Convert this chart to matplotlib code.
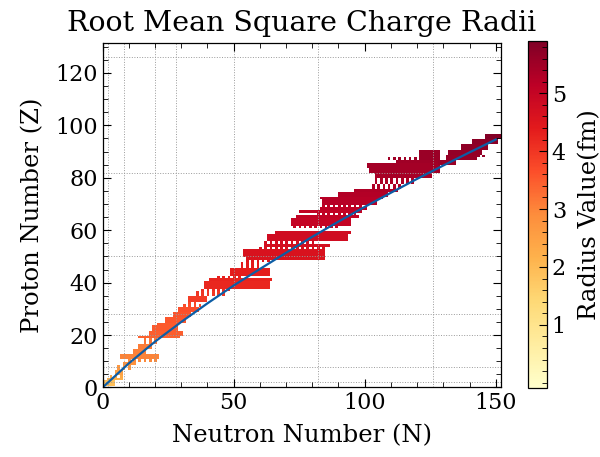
import numpy as np
import matplotlib
matplotlib.use('Agg')
import matplotlib.pyplot as plt

plt.rcParams['font.family'] = ['DejaVu Serif']
plt.rcParams['mathtext.fontset'] = 'dejavuserif'

# nuclide blocks: rows z0..z1, neutrons n0..n1 (every `step`-th cell), radius in fm
seg_z0 = [1, 3, 4, 5, 7, 9, 10, 11, 13, 15, 17,
          19, 20, 22, 24, 25, 27, 29, 31, 32,
          33, 35, 37, 38, 41, 42, 43, 46,
          48, 49, 50, 53, 54, 55, 56, 59,
          61, 62, 65, 66, 67,
          68, 69, 70, 72, 73, 75, 76,
          78, 80, 82, 84, 86, 87, 87,
          85, 87, 88, 89, 91, 93, 95]
seg_z1 = [2, 3, 4, 6, 8, 9, 10, 12, 14, 16, 18,
          19, 21, 23, 24, 26, 28, 30, 31, 32,
          34, 36, 37, 40, 41, 42, 45, 47,
          48, 49, 52, 53, 54, 55, 58, 59,
          61, 64, 65, 66, 67,
          68, 69, 71, 72, 74, 75, 77,
          79, 81, 83, 85, 86, 87, 90,
          86, 88, 88, 90, 92, 94, 96]
seg_n0 = [1, 2, 3, 5, 6, 8, 10, 7, 12, 14, 16,
          14, 18, 19, 21, 24, 27, 29, 31, 33,
          33, 36, 38, 39, 41, 44, 49, 53,
          55, 55, 54, 60, 62, 62, 63, 66,
          73, 72, 74, 82, 75,
          83, 84, 84, 83, 90, 96, 103,
          104, 104, 102, 101, 112, 109, 121,
          128, 131, 141, 132, 137, 141, 146]
seg_n1 = [4, 7, 8, 7, 10, 12, 20, 21, 16, 18, 20,
          29, 30, 28, 28, 31, 33, 36, 37, 36,
          39, 46, 48, 63, 64, 52, 63, 60,
          64, 84, 84, 84, 86, 80, 93, 94,
          90, 94, 97, 96, 98,
          100, 98, 104, 106, 108, 112, 114,
          118, 125, 128, 128, 128, 119, 128,
          134, 142, 145, 144, 146, 150, 151]
seg_step = [1, 1, 2, 1, 2, 1, 2, 1, 1, 1, 2,
            1, 1, 1, 1, 1, 1, 1, 2, 2,
            1, 2, 2, 1, 1, 2, 1, 2,
            2, 1, 1, 2, 1, 2, 1, 1,
            2, 1, 1, 2, 1,
            1, 2, 1, 1, 1, 1, 2,
            2, 1, 1, 1, 1, 2, 1,
            1, 1, 2, 1, 1, 1, 1]
seg_r = [1.9, 2.2, 2.3, 2.5, 2.7, 2.8, 2.95, 3.0, 3.05, 3.1, 3.2,
         3.4, 3.45, 3.5, 3.5, 3.55, 3.6, 3.65, 3.7, 3.75,
         3.9, 4.0, 4.1, 4.2, 4.25, 4.3, 4.35, 4.4,
         4.5, 4.55, 4.6, 4.65, 4.7, 4.75, 4.8, 4.8,
         4.95, 5.0, 5.05, 5.05, 5.05,
         5.15, 5.15, 5.2, 5.2, 5.25, 5.3, 5.3,
         5.35, 5.4, 5.45, 5.45, 5.5, 5.5, 5.55,
         5.55, 5.6, 5.65, 5.65, 5.7, 5.75, 5.85]

# stability line, Z against N
line_n = [0, 10, 20, 30, 40, 50, 60, 70, 80, 90, 100, 110, 120, 130, 140, 150]
line_z = [0, 9.2, 17.5, 25.0, 32.1, 38.9, 45.2, 51.4, 57.5, 63.3, 68.9, 74.3, 79.6, 84.7, 89.7, 94.6]

magic = [2, 8, 20, 28, 50, 82, 126]

grid = np.full((132, 153), np.nan)
for z0, z1, n0, n1, st, r in zip(seg_z0, seg_z1, seg_n0, seg_n1, seg_step, seg_r):
    for z in range(z0, z1 + 1):
        grid[z, n0:n1 + 1:st] = r

fig = plt.figure(figsize=(6, 4.57), dpi=100)
ax = fig.add_axes([0.171, 0.1516, 0.664, 0.7558])
cax = fig.add_axes([0.8805, 0.151, 0.031, 0.759])

im = ax.imshow(grid, origin='lower', cmap='YlOrRd', vmin=-0.09, vmax=5.9,
               interpolation='nearest', extent=(-0.5, 152.5, -0.5, 131.5))
ax.plot(line_n, line_z, color='#0C5DA5', lw=1.6)

for m in magic:
    ax.axvline(m, color='#9a9a9a', ls=':', lw=0.7, zorder=0.5)
    ax.axhline(m, color='#9a9a9a', ls=':', lw=0.7, zorder=0.5)

ax.set_xlim(0, 152)
ax.set_ylim(0, 131.6)
ax.set_aspect('equal')
ax.set_xticks([0, 50, 100, 150])
ax.set_yticks(range(0, 121, 20))
ax.set_xticks(range(0, 151, 10), minor=True)
ax.set_yticks(range(0, 131, 5), minor=True)
ax.tick_params(which='both', direction='in', top=True, right=True, labelsize=16)
ax.tick_params(which='major', length=6, width=0.8)
ax.tick_params(which='minor', length=3.5, width=0.6)
for s in ax.spines.values():
    s.set_linewidth(0.9)

ax.set_title('Root Mean Square Charge Radii', fontsize=20.5, pad=8)
ax.set_xlabel('Neutron Number (N)', fontsize=17.5, labelpad=7)
ax.set_ylabel('Proton Number (Z)', fontsize=17.5, labelpad=8)

cb = fig.colorbar(im, cax=cax)
cb.set_ticks([1, 2, 3, 4, 5])
cb.ax.set_yticks(np.arange(0, 5.9, 0.2), minor=True)
cb.ax.tick_params(which='both', direction='in', labelsize=16)
cb.ax.tick_params(which='major', length=6, width=0.8)
cb.ax.tick_params(which='minor', length=3.5, width=0.6)
cb.set_label('Radius Value(fm)', fontsize=17.5, labelpad=9)
cb.outline.set_linewidth(0.9)

fig.savefig('out.png', dpi=100)
